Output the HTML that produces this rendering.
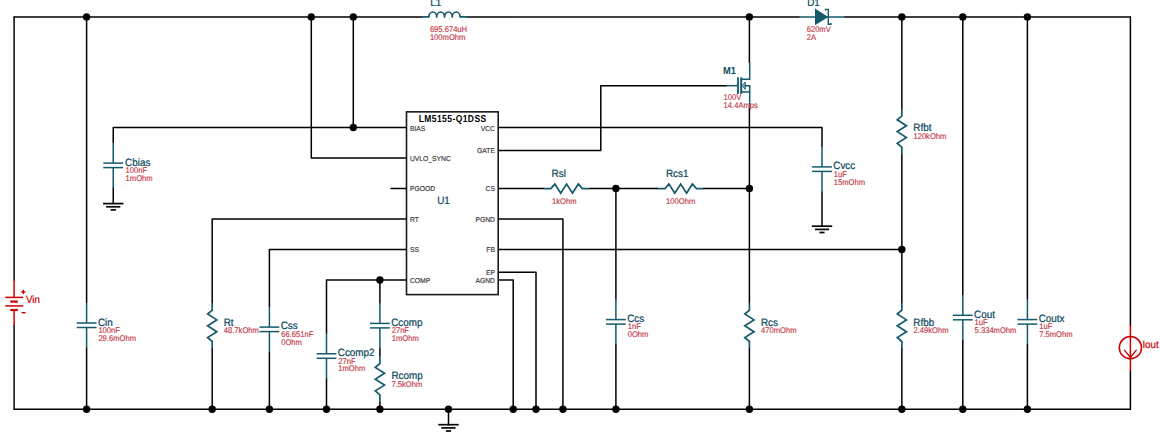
<!DOCTYPE html>
<html><head><meta charset="utf-8"><title>LM5155-Q1DSS schematic</title>
<style>
html,body{margin:0;padding:0;background:#fff;}
svg{display:block;}
text{font-family:"Liberation Sans",Arial,sans-serif;text-rendering:geometricPrecision;}
.l{font-size:9.9px;fill:#0d4a60;stroke:#0d4a60;stroke-width:0.22px;}
.m{font-size:9.3px;font-weight:bold;fill:#0d4a60;}
.v{font-size:7.6px;fill:#c4303c;stroke:#c4303c;stroke-width:0.12px;}
.r{font-size:9.75px;fill:#cc0000;stroke:#cc0000;stroke-width:0.2px;}
.p{font-size:6.75px;fill:#2e2a30;stroke:#2e2a30;stroke-width:0.12px;}
.t{font-size:8.5px;font-weight:bold;fill:#000;}
</style></head><body>
<svg width="1160" height="438" viewBox="0 0 1160 438">
<rect width="1160" height="438" fill="#fff"/>
<line x1="14.10" y1="16.90" x2="422.00" y2="16.90" stroke="#000" stroke-width="1.5" stroke-linecap="round"/>
<line x1="467.20" y1="16.90" x2="799.00" y2="16.90" stroke="#000" stroke-width="1.5" stroke-linecap="round"/>
<line x1="844.70" y1="16.90" x2="1130.40" y2="16.90" stroke="#000" stroke-width="1.5" stroke-linecap="round"/>
<line x1="14.10" y1="16.90" x2="14.10" y2="279.90" stroke="#000" stroke-width="1.5" stroke-linecap="round"/>
<line x1="14.10" y1="325.50" x2="14.10" y2="409.20" stroke="#000" stroke-width="1.5" stroke-linecap="round"/>
<line x1="14.10" y1="409.20" x2="1130.40" y2="409.20" stroke="#000" stroke-width="1.5" stroke-linecap="round"/>
<line x1="1130.40" y1="16.90" x2="1130.40" y2="325.40" stroke="#000" stroke-width="1.5" stroke-linecap="round"/>
<line x1="1130.40" y1="371.10" x2="1130.40" y2="409.20" stroke="#000" stroke-width="1.5" stroke-linecap="round"/>
<line x1="86.60" y1="16.90" x2="86.60" y2="302.50" stroke="#000" stroke-width="1.5" stroke-linecap="round"/>
<line x1="86.60" y1="348.00" x2="86.60" y2="409.20" stroke="#000" stroke-width="1.5" stroke-linecap="round"/>
<polyline points="406.50,127.55 113.25,127.55 113.25,142.60" fill="none" stroke="#000" stroke-width="1.5" stroke-linejoin="round" stroke-linecap="round"/>
<line x1="113.25" y1="188.10" x2="113.25" y2="203.60" stroke="#000" stroke-width="1.5" stroke-linecap="round"/>
<line x1="353.30" y1="16.90" x2="353.30" y2="127.55" stroke="#000" stroke-width="1.5" stroke-linecap="round"/>
<polyline points="311.30,16.90 311.30,158.03 406.50,158.03" fill="none" stroke="#000" stroke-width="1.5" stroke-linejoin="round" stroke-linecap="round"/>
<line x1="391.00" y1="188.55" x2="406.50" y2="188.55" stroke="#000" stroke-width="1.5" stroke-linecap="round"/>
<polyline points="406.50,219.00 212.20,219.00 212.20,302.90" fill="none" stroke="#000" stroke-width="1.5" stroke-linejoin="round" stroke-linecap="round"/>
<line x1="212.20" y1="348.60" x2="212.20" y2="409.20" stroke="#000" stroke-width="1.5" stroke-linecap="round"/>
<polyline points="406.50,249.45 269.40,249.45 269.40,306.60" fill="none" stroke="#000" stroke-width="1.5" stroke-linejoin="round" stroke-linecap="round"/>
<line x1="269.40" y1="352.10" x2="269.40" y2="409.20" stroke="#000" stroke-width="1.5" stroke-linecap="round"/>
<polyline points="406.50,279.95 326.50,279.95 326.50,333.30" fill="none" stroke="#000" stroke-width="1.5" stroke-linejoin="round" stroke-linecap="round"/>
<line x1="326.50" y1="378.80" x2="326.50" y2="409.20" stroke="#000" stroke-width="1.5" stroke-linecap="round"/>
<line x1="379.90" y1="279.95" x2="379.90" y2="302.90" stroke="#000" stroke-width="1.5" stroke-linecap="round"/>
<line x1="379.90" y1="348.40" x2="379.90" y2="356.30" stroke="#000" stroke-width="1.5" stroke-linecap="round"/>
<line x1="379.90" y1="402.00" x2="379.90" y2="409.20" stroke="#000" stroke-width="1.5" stroke-linecap="round"/>
<line x1="448.50" y1="409.20" x2="448.50" y2="424.70" stroke="#000" stroke-width="1.5" stroke-linecap="round"/>
<polyline points="498.20,279.95 513.20,279.95 513.20,409.20" fill="none" stroke="#000" stroke-width="1.5" stroke-linejoin="round" stroke-linecap="round"/>
<polyline points="498.20,272.33 536.00,272.33 536.00,409.20" fill="none" stroke="#000" stroke-width="1.5" stroke-linejoin="round" stroke-linecap="round"/>
<polyline points="498.20,219.00 562.90,219.00 562.90,409.20" fill="none" stroke="#000" stroke-width="1.5" stroke-linejoin="round" stroke-linecap="round"/>
<line x1="498.20" y1="249.45" x2="901.85" y2="249.45" stroke="#000" stroke-width="1.5" stroke-linecap="round"/>
<line x1="498.20" y1="188.55" x2="543.70" y2="188.55" stroke="#000" stroke-width="1.5" stroke-linecap="round"/>
<line x1="589.40" y1="188.55" x2="657.80" y2="188.55" stroke="#000" stroke-width="1.5" stroke-linecap="round"/>
<line x1="703.50" y1="188.55" x2="749.40" y2="188.55" stroke="#000" stroke-width="1.5" stroke-linecap="round"/>
<line x1="615.90" y1="188.55" x2="615.90" y2="299.10" stroke="#000" stroke-width="1.5" stroke-linecap="round"/>
<line x1="615.90" y1="344.60" x2="615.90" y2="409.20" stroke="#000" stroke-width="1.5" stroke-linecap="round"/>
<polyline points="498.20,150.42 600.80,150.42 600.80,85.70 726.40,85.70" fill="none" stroke="#000" stroke-width="1.5" stroke-linejoin="round" stroke-linecap="round"/>
<polyline points="498.20,127.55 822.00,127.55 822.00,146.40" fill="none" stroke="#000" stroke-width="1.5" stroke-linejoin="round" stroke-linecap="round"/>
<line x1="822.00" y1="191.90" x2="822.00" y2="226.20" stroke="#000" stroke-width="1.5" stroke-linecap="round"/>
<line x1="749.40" y1="16.90" x2="749.40" y2="62.50" stroke="#000" stroke-width="1.5" stroke-linecap="round"/>
<line x1="749.40" y1="108.40" x2="749.40" y2="302.90" stroke="#000" stroke-width="1.5" stroke-linecap="round"/>
<line x1="749.40" y1="348.60" x2="749.40" y2="409.20" stroke="#000" stroke-width="1.5" stroke-linecap="round"/>
<line x1="901.85" y1="16.90" x2="901.85" y2="108.70" stroke="#000" stroke-width="1.5" stroke-linecap="round"/>
<line x1="901.85" y1="154.40" x2="901.85" y2="302.90" stroke="#000" stroke-width="1.5" stroke-linecap="round"/>
<line x1="901.85" y1="348.60" x2="901.85" y2="409.20" stroke="#000" stroke-width="1.5" stroke-linecap="round"/>
<line x1="962.80" y1="16.90" x2="962.80" y2="294.80" stroke="#000" stroke-width="1.5" stroke-linecap="round"/>
<line x1="962.80" y1="340.30" x2="962.80" y2="409.20" stroke="#000" stroke-width="1.5" stroke-linecap="round"/>
<line x1="1027.40" y1="16.90" x2="1027.40" y2="299.10" stroke="#000" stroke-width="1.5" stroke-linecap="round"/>
<line x1="1027.40" y1="344.60" x2="1027.40" y2="409.20" stroke="#000" stroke-width="1.5" stroke-linecap="round"/>
<line x1="86.60" y1="302.50" x2="86.60" y2="323.00" stroke="#15596c" stroke-width="1.5" stroke-linecap="butt"/>
<line x1="86.60" y1="327.50" x2="86.60" y2="348.00" stroke="#15596c" stroke-width="1.5" stroke-linecap="butt"/>
<line x1="76.70" y1="323.00" x2="96.50" y2="323.00" stroke="#15596c" stroke-width="1.5" stroke-linecap="butt"/>
<line x1="76.70" y1="327.50" x2="96.50" y2="327.50" stroke="#15596c" stroke-width="1.5" stroke-linecap="butt"/>
<line x1="113.25" y1="142.60" x2="113.25" y2="163.10" stroke="#15596c" stroke-width="1.5" stroke-linecap="butt"/>
<line x1="113.25" y1="167.60" x2="113.25" y2="188.10" stroke="#15596c" stroke-width="1.5" stroke-linecap="butt"/>
<line x1="103.35" y1="163.10" x2="123.15" y2="163.10" stroke="#15596c" stroke-width="1.5" stroke-linecap="butt"/>
<line x1="103.35" y1="167.60" x2="123.15" y2="167.60" stroke="#15596c" stroke-width="1.5" stroke-linecap="butt"/>
<line x1="103.05" y1="203.60" x2="123.45" y2="203.60" stroke="#050505" stroke-width="1.7" stroke-linecap="butt"/>
<line x1="106.15" y1="206.80" x2="120.35" y2="206.80" stroke="#050505" stroke-width="1.7" stroke-linecap="butt"/>
<line x1="110.65" y1="209.90" x2="115.85" y2="209.90" stroke="#050505" stroke-width="1.7" stroke-linecap="butt"/>
<polyline points="212.20,302.90 212.20,310.10 207.60,314.00 216.80,319.90 207.60,325.80 216.80,331.70 207.60,337.50 212.20,341.50 212.20,348.60" fill="none" stroke="#15596c" stroke-width="1.7" stroke-linejoin="miter"/>
<line x1="269.40" y1="306.60" x2="269.40" y2="327.10" stroke="#15596c" stroke-width="1.5" stroke-linecap="butt"/>
<line x1="269.40" y1="331.60" x2="269.40" y2="352.10" stroke="#15596c" stroke-width="1.5" stroke-linecap="butt"/>
<line x1="259.50" y1="327.10" x2="279.30" y2="327.10" stroke="#15596c" stroke-width="1.5" stroke-linecap="butt"/>
<line x1="259.50" y1="331.60" x2="279.30" y2="331.60" stroke="#15596c" stroke-width="1.5" stroke-linecap="butt"/>
<line x1="326.50" y1="333.30" x2="326.50" y2="353.80" stroke="#15596c" stroke-width="1.5" stroke-linecap="butt"/>
<line x1="326.50" y1="358.30" x2="326.50" y2="378.80" stroke="#15596c" stroke-width="1.5" stroke-linecap="butt"/>
<line x1="316.60" y1="353.80" x2="336.40" y2="353.80" stroke="#15596c" stroke-width="1.5" stroke-linecap="butt"/>
<line x1="316.60" y1="358.30" x2="336.40" y2="358.30" stroke="#15596c" stroke-width="1.5" stroke-linecap="butt"/>
<line x1="379.90" y1="302.90" x2="379.90" y2="323.40" stroke="#15596c" stroke-width="1.5" stroke-linecap="butt"/>
<line x1="379.90" y1="327.90" x2="379.90" y2="348.40" stroke="#15596c" stroke-width="1.5" stroke-linecap="butt"/>
<line x1="370.00" y1="323.40" x2="389.80" y2="323.40" stroke="#15596c" stroke-width="1.5" stroke-linecap="butt"/>
<line x1="370.00" y1="327.90" x2="389.80" y2="327.90" stroke="#15596c" stroke-width="1.5" stroke-linecap="butt"/>
<polyline points="379.90,356.30 379.90,363.50 375.30,367.40 384.50,373.30 375.30,379.20 384.50,385.10 375.30,390.90 379.90,394.90 379.90,402.00" fill="none" stroke="#15596c" stroke-width="1.7" stroke-linejoin="miter"/>
<line x1="438.30" y1="424.70" x2="458.70" y2="424.70" stroke="#050505" stroke-width="1.7" stroke-linecap="butt"/>
<line x1="441.40" y1="427.90" x2="455.60" y2="427.90" stroke="#050505" stroke-width="1.7" stroke-linecap="butt"/>
<line x1="445.90" y1="431.00" x2="451.10" y2="431.00" stroke="#050505" stroke-width="1.7" stroke-linecap="butt"/>
<polyline points="543.70,188.55 550.90,188.55 554.80,183.95 560.70,193.15 566.60,183.95 572.50,193.15 578.30,183.95 582.30,188.55 589.40,188.55" fill="none" stroke="#15596c" stroke-width="1.7" stroke-linejoin="miter"/>
<polyline points="657.80,188.55 665.00,188.55 668.90,183.95 674.80,193.15 680.70,183.95 686.60,193.15 692.40,183.95 696.40,188.55 703.50,188.55" fill="none" stroke="#15596c" stroke-width="1.7" stroke-linejoin="miter"/>
<line x1="615.90" y1="299.10" x2="615.90" y2="319.60" stroke="#15596c" stroke-width="1.5" stroke-linecap="butt"/>
<line x1="615.90" y1="324.10" x2="615.90" y2="344.60" stroke="#15596c" stroke-width="1.5" stroke-linecap="butt"/>
<line x1="606.00" y1="319.60" x2="625.80" y2="319.60" stroke="#15596c" stroke-width="1.5" stroke-linecap="butt"/>
<line x1="606.00" y1="324.10" x2="625.80" y2="324.10" stroke="#15596c" stroke-width="1.5" stroke-linecap="butt"/>
<line x1="822.00" y1="146.40" x2="822.00" y2="166.90" stroke="#15596c" stroke-width="1.5" stroke-linecap="butt"/>
<line x1="822.00" y1="171.40" x2="822.00" y2="191.90" stroke="#15596c" stroke-width="1.5" stroke-linecap="butt"/>
<line x1="812.10" y1="166.90" x2="831.90" y2="166.90" stroke="#15596c" stroke-width="1.5" stroke-linecap="butt"/>
<line x1="812.10" y1="171.40" x2="831.90" y2="171.40" stroke="#15596c" stroke-width="1.5" stroke-linecap="butt"/>
<line x1="811.80" y1="226.20" x2="832.20" y2="226.20" stroke="#050505" stroke-width="1.7" stroke-linecap="butt"/>
<line x1="814.90" y1="229.40" x2="829.10" y2="229.40" stroke="#050505" stroke-width="1.7" stroke-linecap="butt"/>
<line x1="819.40" y1="232.50" x2="824.60" y2="232.50" stroke="#050505" stroke-width="1.7" stroke-linecap="butt"/>
<polyline points="749.40,302.90 749.40,310.10 744.80,314.00 754.00,319.90 744.80,325.80 754.00,331.70 744.80,337.50 749.40,341.50 749.40,348.60" fill="none" stroke="#15596c" stroke-width="1.7" stroke-linejoin="miter"/>
<polyline points="749.70,62.50 749.70,79.20 741.10,79.20" fill="none" stroke="#15596c" stroke-width="1.5" stroke-linejoin="miter"/>
<polyline points="741.10,91.95 749.70,91.95" fill="none" stroke="#15596c" stroke-width="1.5" stroke-linejoin="miter"/>
<polyline points="744.50,85.70 749.70,85.70 749.70,108.40" fill="none" stroke="#15596c" stroke-width="1.5" stroke-linejoin="miter"/>
<line x1="726.40" y1="85.70" x2="738.00" y2="85.70" stroke="#15596c" stroke-width="1.5" stroke-linecap="butt"/>
<line x1="738.00" y1="77.30" x2="738.00" y2="93.90" stroke="#15596c" stroke-width="1.8" stroke-linecap="butt"/>
<line x1="741.20" y1="77.30" x2="741.20" y2="93.90" stroke="#15596c" stroke-width="2.0" stroke-linecap="butt"/>
<polygon points="742.2,85.7 745.3,82.00 745.3,89.40" fill="#15596c" fill-opacity="0.45" stroke="#15596c" stroke-width="0.9" stroke-linejoin="round"/>
<polyline points="901.85,108.70 901.85,115.90 897.25,119.80 906.45,125.70 897.25,131.60 906.45,137.50 897.25,143.30 901.85,147.30 901.85,154.40" fill="none" stroke="#15596c" stroke-width="1.7" stroke-linejoin="miter"/>
<polyline points="901.85,302.90 901.85,310.10 897.25,314.00 906.45,319.90 897.25,325.80 906.45,331.70 897.25,337.50 901.85,341.50 901.85,348.60" fill="none" stroke="#15596c" stroke-width="1.7" stroke-linejoin="miter"/>
<line x1="962.80" y1="294.80" x2="962.80" y2="315.30" stroke="#15596c" stroke-width="1.5" stroke-linecap="butt"/>
<line x1="962.80" y1="319.80" x2="962.80" y2="340.30" stroke="#15596c" stroke-width="1.5" stroke-linecap="butt"/>
<line x1="952.90" y1="315.30" x2="972.70" y2="315.30" stroke="#15596c" stroke-width="1.5" stroke-linecap="butt"/>
<line x1="952.90" y1="319.80" x2="972.70" y2="319.80" stroke="#15596c" stroke-width="1.5" stroke-linecap="butt"/>
<line x1="1027.40" y1="299.10" x2="1027.40" y2="319.60" stroke="#15596c" stroke-width="1.5" stroke-linecap="butt"/>
<line x1="1027.40" y1="324.10" x2="1027.40" y2="344.60" stroke="#15596c" stroke-width="1.5" stroke-linecap="butt"/>
<line x1="1017.50" y1="319.60" x2="1037.30" y2="319.60" stroke="#15596c" stroke-width="1.5" stroke-linecap="butt"/>
<line x1="1017.50" y1="324.10" x2="1037.30" y2="324.10" stroke="#15596c" stroke-width="1.5" stroke-linecap="butt"/>
<path d="M422,16.9 L428.9,16.9 A3.9,4.9 0 0 1 436.70,16.9 A3.9,4.9 0 0 1 444.50,16.9 A3.9,4.9 0 0 1 452.30,16.9 A3.9,4.9 0 0 1 460.10,16.9 L467.2,16.9" fill="none" stroke="#15596c" stroke-width="1.7" stroke-linejoin="round"/>
<line x1="799.00" y1="16.90" x2="844.70" y2="16.90" stroke="#15596c" stroke-width="1.5" stroke-linecap="butt"/>
<polygon points="815.0,8.5 815.0,25.3 828.3,16.9" fill="#15596c"/>
<polyline points="825.40,10.60 825.40,9.40 828.30,9.40 828.30,24.20 830.90,24.20 830.90,23.00" fill="none" stroke="#15596c" stroke-width="1.4" stroke-linejoin="miter"/>
<line x1="14.10" y1="279.90" x2="14.10" y2="297.40" stroke="#cc0000" stroke-width="1.5" stroke-linecap="butt"/>
<line x1="14.10" y1="310.00" x2="14.10" y2="325.50" stroke="#cc0000" stroke-width="1.5" stroke-linecap="butt"/>
<line x1="5.20" y1="297.40" x2="23.30" y2="297.40" stroke="#cc0000" stroke-width="1.5" stroke-linecap="butt"/>
<line x1="5.20" y1="305.90" x2="23.30" y2="305.90" stroke="#cc0000" stroke-width="1.5" stroke-linecap="butt"/>
<line x1="10.30" y1="301.60" x2="17.80" y2="301.60" stroke="#cc0000" stroke-width="2.2" stroke-linecap="butt"/>
<line x1="10.30" y1="310.00" x2="17.80" y2="310.00" stroke="#cc0000" stroke-width="2.2" stroke-linecap="butt"/>
<line x1="21.20" y1="291.90" x2="25.40" y2="291.90" stroke="#cc0000" stroke-width="1.4" stroke-linecap="butt"/>
<line x1="23.30" y1="289.80" x2="23.30" y2="294.00" stroke="#cc0000" stroke-width="1.4" stroke-linecap="butt"/>
<line x1="21.60" y1="312.70" x2="25.60" y2="312.70" stroke="#cc0000" stroke-width="1.4" stroke-linecap="butt"/>
<line x1="1130.40" y1="325.40" x2="1130.40" y2="371.10" stroke="#cc0000" stroke-width="1.5" stroke-linecap="butt"/>
<circle cx="1130.4" cy="347.7" r="11.1" fill="none" stroke="#cc0000" stroke-width="1.5"/>
<polyline points="1124.20,349.90 1130.40,357.40 1136.60,349.90" fill="none" stroke="#cc0000" stroke-width="1.4" stroke-linejoin="miter"/>
<rect x="406.5" y="111.85" width="91.70" height="182.75" fill="#fff" stroke="#1a1a1a" stroke-width="1.6"/>
<circle cx="86.60" cy="16.90" r="3.7" fill="#000"/>
<circle cx="311.30" cy="16.90" r="3.7" fill="#000"/>
<circle cx="353.30" cy="16.90" r="3.7" fill="#000"/>
<circle cx="749.40" cy="16.90" r="3.7" fill="#000"/>
<circle cx="901.85" cy="16.90" r="3.7" fill="#000"/>
<circle cx="962.80" cy="16.90" r="3.7" fill="#000"/>
<circle cx="1027.40" cy="16.90" r="3.7" fill="#000"/>
<circle cx="86.60" cy="409.20" r="3.7" fill="#000"/>
<circle cx="212.20" cy="409.20" r="3.7" fill="#000"/>
<circle cx="269.40" cy="409.20" r="3.7" fill="#000"/>
<circle cx="326.50" cy="409.20" r="3.7" fill="#000"/>
<circle cx="379.90" cy="409.20" r="3.7" fill="#000"/>
<circle cx="448.50" cy="409.20" r="3.7" fill="#000"/>
<circle cx="513.20" cy="409.20" r="3.7" fill="#000"/>
<circle cx="536.00" cy="409.20" r="3.7" fill="#000"/>
<circle cx="562.90" cy="409.20" r="3.7" fill="#000"/>
<circle cx="615.90" cy="409.20" r="3.7" fill="#000"/>
<circle cx="749.40" cy="409.20" r="3.7" fill="#000"/>
<circle cx="901.85" cy="409.20" r="3.7" fill="#000"/>
<circle cx="962.80" cy="409.20" r="3.7" fill="#000"/>
<circle cx="1027.40" cy="409.20" r="3.7" fill="#000"/>
<circle cx="353.30" cy="127.55" r="3.7" fill="#000"/>
<circle cx="379.90" cy="279.95" r="3.7" fill="#000"/>
<circle cx="615.90" cy="188.55" r="3.7" fill="#000"/>
<circle cx="749.40" cy="188.55" r="3.7" fill="#000"/>
<circle cx="901.85" cy="249.45" r="3.7" fill="#000"/>
<text transform="translate(452.40 121.70) scale(1 1.19)" class="t" text-anchor="middle" textLength="67.5" lengthAdjust="spacing">LM5155-Q1DSS</text>
<text transform="translate(409.90 131.20) scale(1 1.05)" class="p">BIAS</text>
<text transform="translate(409.90 160.95) scale(1 1.05)" class="p">UVLO_SYNC</text>
<text transform="translate(409.90 190.60) scale(1 1.05)" class="p">PGOOD</text>
<text transform="translate(409.90 222.05) scale(1 1.05)" class="p">RT</text>
<text transform="translate(409.90 252.00) scale(1 1.05)" class="p">SS</text>
<text transform="translate(409.90 283.15) scale(1 1.05)" class="p">COMP</text>
<text transform="translate(495.00 131.20) scale(1 1.05)" class="p" text-anchor="end">VCC</text>
<text transform="translate(495.00 153.30) scale(1 1.05)" class="p" text-anchor="end">GATE</text>
<text transform="translate(495.00 190.60) scale(1 1.05)" class="p" text-anchor="end">CS</text>
<text transform="translate(495.00 222.05) scale(1 1.05)" class="p" text-anchor="end">PGND</text>
<text transform="translate(495.00 252.00) scale(1 1.05)" class="p" text-anchor="end">FB</text>
<text transform="translate(495.00 274.60) scale(1 1.05)" class="p" text-anchor="end">EP</text>
<text transform="translate(495.00 283.15) scale(1 1.05)" class="p" text-anchor="end">AGND</text>
<text transform="translate(437.20 204.30) scale(1 1.07)" class="l">U1</text>
<text transform="translate(97.90 326.00) scale(1 1.07)" class="l">Cin</text>
<text transform="translate(98.40 333.00) scale(1 1.1)" class="v">100nF</text>
<text transform="translate(98.40 341.00) scale(1 1.1)" class="v">29.6mOhm</text>
<text transform="translate(125.10 166.00) scale(1 1.07)" class="l">Cbias</text>
<text transform="translate(125.60 173.00) scale(1 1.1)" class="v">100nF</text>
<text transform="translate(125.60 181.00) scale(1 1.1)" class="v">1mOhm</text>
<text transform="translate(280.70 329.00) scale(1 1.07)" class="l">Css</text>
<text transform="translate(281.20 337.00) scale(1 1.1)" class="v">66.651nF</text>
<text transform="translate(281.20 345.00) scale(1 1.1)" class="v">0Ohm</text>
<text transform="translate(337.80 356.00) scale(1 1.07)" class="l">Ccomp2</text>
<text transform="translate(338.30 364.00) scale(1 1.1)" class="v">27nF</text>
<text transform="translate(338.30 371.00) scale(1 1.1)" class="v">1mOhm</text>
<text transform="translate(391.20 326.00) scale(1 1.07)" class="l">Ccomp</text>
<text transform="translate(391.70 333.00) scale(1 1.1)" class="v">27nF</text>
<text transform="translate(391.70 341.00) scale(1 1.1)" class="v">1mOhm</text>
<text transform="translate(627.20 322.00) scale(1 1.07)" class="l">Ccs</text>
<text transform="translate(627.70 329.00) scale(1 1.1)" class="v">1nF</text>
<text transform="translate(627.70 337.00) scale(1 1.1)" class="v">0Ohm</text>
<text transform="translate(833.30 169.00) scale(1 1.07)" class="l">Cvcc</text>
<text transform="translate(833.80 177.00) scale(1 1.1)" class="v">1uF</text>
<text transform="translate(833.80 185.00) scale(1 1.1)" class="v">15mOhm</text>
<text transform="translate(974.10 318.00) scale(1 1.07)" class="l">Cout</text>
<text transform="translate(974.60 325.00) scale(1 1.1)" class="v">1uF</text>
<text transform="translate(974.60 333.00) scale(1 1.1)" class="v">5.334mOhm</text>
<text transform="translate(1038.70 322.00) scale(1 1.07)" class="l">Coutx</text>
<text transform="translate(1039.20 329.00) scale(1 1.1)" class="v">1uF</text>
<text transform="translate(1039.20 337.00) scale(1 1.1)" class="v">7.5mOhm</text>
<text transform="translate(223.70 326.00) scale(1 1.07)" class="l">Rt</text>
<text transform="translate(223.80 333.00) scale(1 1.1)" class="v">48.7kOhm</text>
<text transform="translate(391.40 379.00) scale(1 1.07)" class="l">Rcomp</text>
<text transform="translate(391.50 387.00) scale(1 1.1)" class="v">7.5kOhm</text>
<text transform="translate(760.90 326.00) scale(1 1.07)" class="l">Rcs</text>
<text transform="translate(761.00 333.00) scale(1 1.1)" class="v">470mOhm</text>
<text transform="translate(913.35 131.00) scale(1 1.07)" class="l">Rfbt</text>
<text transform="translate(913.45 139.00) scale(1 1.1)" class="v">120kOhm</text>
<text transform="translate(913.35 326.00) scale(1 1.07)" class="l">Rfbb</text>
<text transform="translate(913.45 333.00) scale(1 1.1)" class="v">2.49kOhm</text>
<text transform="translate(551.60 176.50) scale(1 1.07)" class="l">Rsl</text>
<text transform="translate(552.00 203.60) scale(1 1.1)" class="v">1kOhm</text>
<text transform="translate(665.90 176.50) scale(1 1.07)" class="l">Rcs1</text>
<text transform="translate(666.10 203.60) scale(1 1.1)" class="v">100Ohm</text>
<text transform="translate(430.30 6.00) scale(1 1.07)" class="l">L1</text>
<text transform="translate(429.90 31.50) scale(1 1.1)" class="v">695.674uH</text>
<text transform="translate(429.90 39.60) scale(1 1.1)" class="v">100mOhm</text>
<text transform="translate(807.20 6.00) scale(1 1.07)" class="l">D1</text>
<text transform="translate(806.70 31.50) scale(1 1.1)" class="v">620mV</text>
<text transform="translate(806.70 39.60) scale(1 1.1)" class="v">2A</text>
<text transform="translate(723.00 73.80) scale(1 1.1)" class="m">M1</text>
<text transform="translate(723.60 99.70) scale(1 1.1)" class="v">100V</text>
<text transform="translate(723.60 107.50) scale(1 1.1)" class="v">14.4Amps</text>
<text transform="translate(26.00 303.30) scale(1 1.07)" class="r">Vin</text>
<text transform="translate(1142.40 347.80) scale(1 1.07)" class="r">Iout</text>
</svg>
</body></html>
